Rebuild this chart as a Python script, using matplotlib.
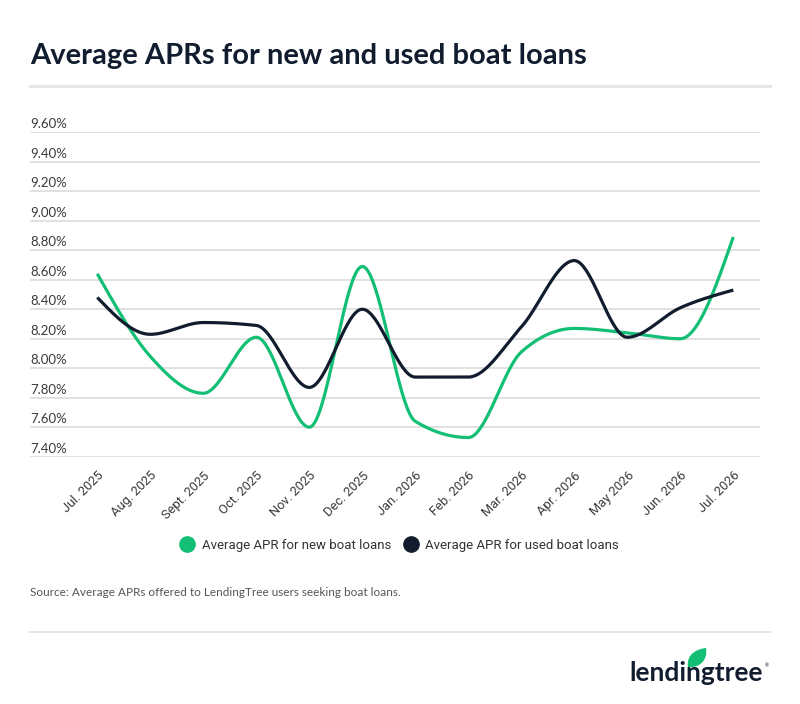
import matplotlib
matplotlib.use('Agg')
import matplotlib.pyplot as plt
import numpy as np
from matplotlib.lines import Line2D
from matplotlib.path import Path
from matplotlib.patches import PathPatch
import matplotlib.transforms as mtransforms

months = ['Jul. 2025', 'Aug. 2025', 'Sept. 2025', 'Oct. 2025', 'Nov. 2025', 'Dec. 2025',
          'Jan. 2026', 'Feb. 2026', 'Mar. 2026', 'Apr. 2026', 'May 2026', 'Jun. 2026', 'Jul. 2026']
new_apr = [8.64, 8.08, 7.83, 8.21, 7.60, 8.69, 7.64, 7.53, 8.11, 8.27, 8.24, 8.20, 8.89]
used_apr = [8.48, 8.23, 8.31, 8.29, 7.87, 8.40, 7.94, 7.94, 8.28, 8.73, 8.21, 8.41, 8.53]
yticks = [7.40, 7.60, 7.80, 8.00, 8.20, 8.40, 8.60, 8.80, 9.00, 9.20, 9.40, 9.60]

GREEN = '#12bf74'
NAVY = '#111d2e'


def monotone(xs, ys, n=40):
    # d3 style monotone-x curve
    xs = np.asarray(xs, float)
    ys = np.asarray(ys, float)
    h = np.diff(xs)
    s = np.diff(ys) / h
    t = np.zeros(len(xs))
    for i in range(1, len(xs) - 1):
        p = (s[i - 1] * h[i] + s[i] * h[i - 1]) / (h[i - 1] + h[i])
        t[i] = (np.sign(s[i - 1]) + np.sign(s[i])) * min(abs(s[i - 1]), abs(s[i]), 0.5 * abs(p))
    t[0] = (3 * s[0] - t[1]) / 2
    t[-1] = (3 * s[-1] - t[-2]) / 2
    ox, oy = [], []
    for i in range(len(xs) - 1):
        u = np.linspace(0, 1, n, endpoint=False)
        h00 = 2 * u**3 - 3 * u**2 + 1
        h10 = u**3 - 2 * u**2 + u
        h01 = -2 * u**3 + 3 * u**2
        h11 = u**3 - u**2
        ox.extend(xs[i] + u * h[i])
        oy.extend(h00 * ys[i] + h10 * h[i] * t[i] + h01 * ys[i + 1] + h11 * h[i] * t[i + 1])
    ox.append(xs[-1])
    oy.append(ys[-1])
    return np.array(ox), np.array(oy)


fig = plt.figure(figsize=(8, 7.04), dpi=100)
W, H = 800, 704

fig.text(30 / W, 1 - 56 / H, 'Average APRs for new and used boat loans', family='Lato',
         weight='bold', fontsize=21, color=NAVY, va='center', ha='left')
fig.add_artist(Line2D([30 / W, 770 / W], [1 - 86 / H, 1 - 86 / H], color='#e6e6e6', lw=2.2))

ax = fig.add_axes([30 / W, 1 - 456.7 / H, 730 / W, (456.7 - 132.3) / H])
x = np.arange(len(months))
for vals, col in [(new_apr, GREEN), (used_apr, NAVY)]:
    sx, sy = monotone(x, vals)
    ax.plot(sx, sy, color=col, lw=2.3, solid_capstyle='butt', zorder=3)

ax.set_xlim(-1.27, 12.504)
ax.set_ylim(7.40, 9.60)
lift = mtransforms.ScaledTranslation(0, 2 / 100, fig.dpi_scale_trans)
for v in yticks:
    ax.axhline(v, color='#d9d9d9', lw=1.1, zorder=1)
    ax.text(0, v, f'{v:.2f}%', transform=ax.get_yaxis_transform() + lift, family='Lato',
            fontsize=9.5, color='#3a3a3a', va='bottom', ha='left')
for s in ax.spines.values():
    s.set_visible(False)
ax.set_yticks([])
ax.set_xticks(x)
ax.tick_params(axis='x', length=0, pad=9)
ax.set_xticklabels(months, rotation=45, ha='right', va='top', rotation_mode='anchor',
                   family='Roboto', fontsize=9.3, color='#3a3a3a')

handles = [Line2D([], [], marker='o', ls='', color=GREEN, markersize=11),
           Line2D([], [], marker='o', ls='', color=NAVY, markersize=11)]
fig.legend(handles, ['Average APR for new boat loans', 'Average APR for used boat loans'],
           loc='center', bbox_to_anchor=(399 / W, 1 - 545 / H), ncol=2, frameon=False,
           prop={'family': 'Roboto', 'size': 9.5}, handletextpad=0.5, columnspacing=0.9,
           handlelength=1.2, labelcolor='#333333')

fig.text(30 / W, 1 - 593 / H, 'Source: Average APRs offered to LendingTree users seeking boat loans.',
         family='Lato', fontsize=8.5, color='#555555', va='center', ha='left')
fig.add_artist(Line2D([30 / W, 770 / W], [1 - 632 / H, 1 - 632 / H], color='#e0e0e0', lw=1.2))

# logo
fig.text(763 / W, 1 - 673 / H, 'lendingtree', family='Lato', weight='bold', fontsize=19,
         color=NAVY, va='center', ha='right')
fig.text(765 / W, 1 - 666 / H, '®', family='Lato', fontsize=3.5, color=NAVY, va='center')
leaf_px = [(688, 667), (686, 655), (696, 649), (706, 648),
           (708, 660), (700, 668), (688, 667), (688, 667)]
leaf_codes = [Path.MOVETO, Path.CURVE4, Path.CURVE4, Path.CURVE4,
              Path.CURVE4, Path.CURVE4, Path.CURVE4, Path.CLOSEPOLY]
verts = [(px / W, 1 - py / H) for px, py in leaf_px]
fig.add_artist(PathPatch(Path(verts, leaf_codes), transform=fig.transFigure,
                         facecolor=GREEN, edgecolor='none'))

fig.savefig('out.png', dpi=100, facecolor='white')
